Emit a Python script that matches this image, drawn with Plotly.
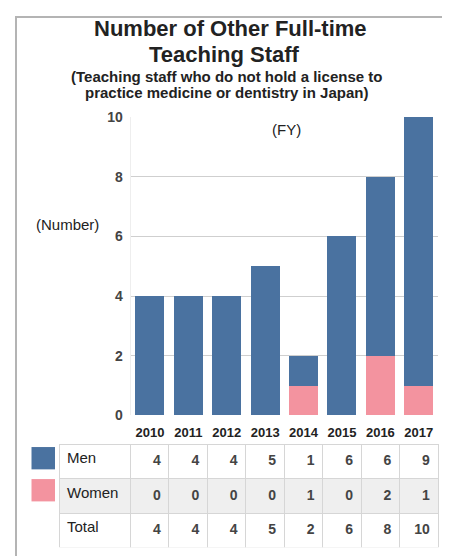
import plotly.graph_objects as go

years = ["2010", "2011", "2012", "2013", "2014", "2015", "2016", "2017"]
men = [4, 4, 4, 5, 1, 6, 6, 9]
women = [0, 0, 0, 0, 1, 0, 2, 1]
total = [m + w for m, w in zip(men, women)]
row_labels = ["Men", "Women", "Total"]

BLUE = "#4a72a0"
PINK = "#f3939f"
# page body has an 8px margin, so the figure is drawn 8px in from the corner
OFF = 8
W, H = 450 - OFF, 556 - OFF


def px(x):
    return (x - OFF) / W


def py(y):
    return 1 - (y - OFF) / H


FONT = "Liberation Sans, Arial, sans-serif"

fig = go.Figure()
fig.add_trace(go.Bar(x=years, y=women, name="Women", marker_color=PINK,
                     marker_line_width=0))
fig.add_trace(go.Bar(x=years, y=men, name="Men", marker_color=BLUE,
                     marker_line_width=0))

cell_vals = [row_labels] + [
    [f"<b>{m}</b>", f"<b>{w}</b>", f"<b>{t}</b>"]
    for m, w, t in zip(men, women, total)
]
fig.add_trace(go.Table(
    domain=dict(x=[px(59), px(438)], y=[0, py(448)]),
    columnwidth=[71.5] + [38.4] * len(years),
    header=dict(
        values=[""] * (len(years) + 1),
        fill_color="rgba(0,0,0,0)",
        line_color="rgba(0,0,0,0)",
        height=1,
    ),
    cells=dict(
        values=cell_vals,
        fill_color=[["white", "#efefef", "white"]],
        line=dict(color="#d6d6d6", width=1),
        align=["left", "right"],
        height=34.5,
        font=dict(family=FONT, size=[15, 14], color=["#222", "#444"]),
    ),
))


def label(text, x, y, size, bold=False):
    return dict(text=f"<b>{text}</b>" if bold else text,
                x=px(x), y=py(y), xref="paper", yref="paper",
                xanchor="center", yanchor="middle", showarrow=False,
                font=dict(family=FONT, size=size, color="#222"))


fig.update_layout(
    barmode="stack",
    bargap=0.245,
    width=W, height=H,
    margin=dict(l=0, r=0, t=0, b=0),
    paper_bgcolor="white",
    plot_bgcolor="white",
    showlegend=False,
    font=dict(family=FONT),
    xaxis=dict(domain=[px(130.7), px(438)], showgrid=False,
               fixedrange=True, ticks="", ticklabelstandoff=8,
               tickfont=dict(family=FONT, size=13, color="#222",
                             weight="bold")),
    yaxis=dict(domain=[py(419.5), py(112)], range=[0, 10], dtick=2,
               showgrid=True, gridcolor="#cfcfcf", gridwidth=1,
               zeroline=False, showline=True, linecolor="#eeeeee",
               ticks="", ticklabelstandoff=4,
               tickfont=dict(family=FONT, size=14, color="#444",
                             weight="bold")),
    shapes=[
        dict(type="rect", xref="paper", yref="paper",
             x0=px(16), x1=px(446), y0=-0.05, y1=py(9),
             line=dict(color="#b4b4b4", width=2)),
        dict(type="rect", xref="paper", yref="paper",
             x0=px(31.5), x1=px(55), y0=py(475), y1=py(452),
             fillcolor=BLUE, line=dict(width=0)),
        dict(type="rect", xref="paper", yref="paper",
             x0=px(31.5), x1=px(55), y0=py(508), y1=py(485),
             fillcolor=PINK, line=dict(width=0)),
    ],
    annotations=[
        label("Number of Other Full-time", 230, 21, 22, True),
        label("Teaching Staff", 224, 48, 22, True),
        label("(Teaching staff who do not hold a license to", 226, 70, 15, True),
        label("practice medicine or dentistry in Japan)", 226, 87, 15, True),
        label("(Number)", 68, 223, 15),
        label("(FY)", 286, 125, 15),
    ],
)

fig.write_html("out.html")
